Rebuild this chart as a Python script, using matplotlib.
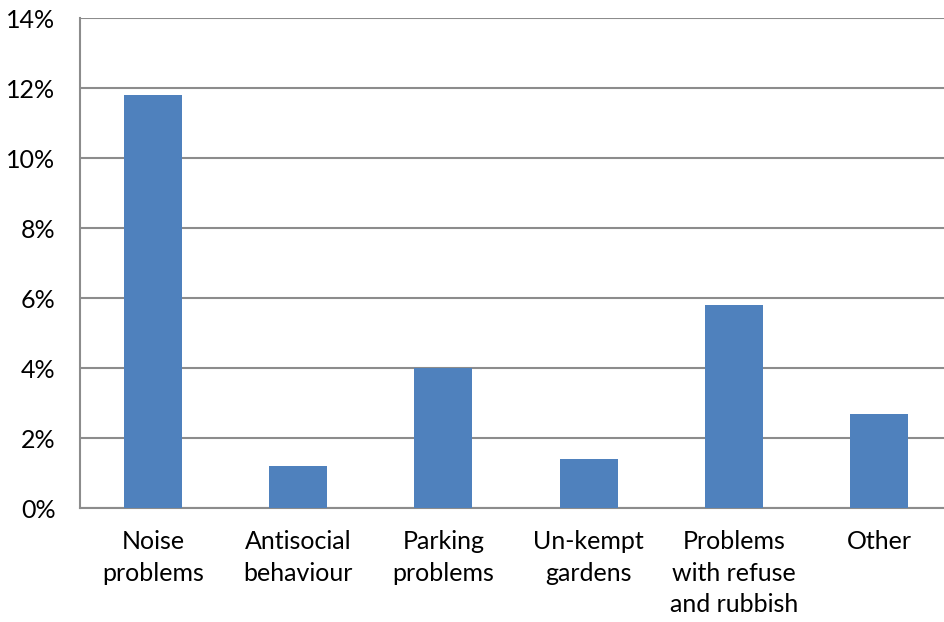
import matplotlib
matplotlib.use("Agg")
import matplotlib.pyplot as plt
import numpy as np

categories = ["Noise\nproblems", "Antisocial\nbehaviour", "Parking\nproblems",
              "Un-kempt\ngardens", "Problems\nwith refuse\nand rubbish", "Other"]
values = [11.8, 1.2, 4.0, 1.4, 5.8, 2.7]
yticks = [0, 2, 4, 6, 8, 10, 12, 14]

plt.rcParams['font.family'] = ['Lato', 'DejaVu Sans']

fig = plt.figure(figsize=(9.44, 6.22), dpi=100)
# axes runs a bit past the right edge like the original
ax = fig.add_axes([80.4/944, 1-508/622, 871.2/944, 490/622])

x = np.arange(len(categories))
ax.bar(x, values, width=0.4, color="#4F81BD", zorder=3)

ax.set_xlim(-0.5, len(categories)-0.5)
ax.set_ylim(0, 14)
ax.set_yticks(yticks)
ax.set_yticklabels([f"{t}%" for t in yticks], fontsize=18)
ax.set_xticks(x)
ax.set_xticklabels(categories, fontsize=18, linespacing=1.45, va="top")
ax.tick_params(axis="both", length=0)
ax.tick_params(axis="y", pad=18)
ax.tick_params(axis="x", pad=16)

ax.grid(axis="y", color="#8c8c8c", linewidth=1.5, zorder=0)
for s in ["top", "right"]:
    ax.spines[s].set_visible(False)
for s in ["left", "bottom"]:
    ax.spines[s].set_color("#8c8c8c")
    ax.spines[s].set_linewidth(1.5)

fig.savefig("out.png", dpi=100)
